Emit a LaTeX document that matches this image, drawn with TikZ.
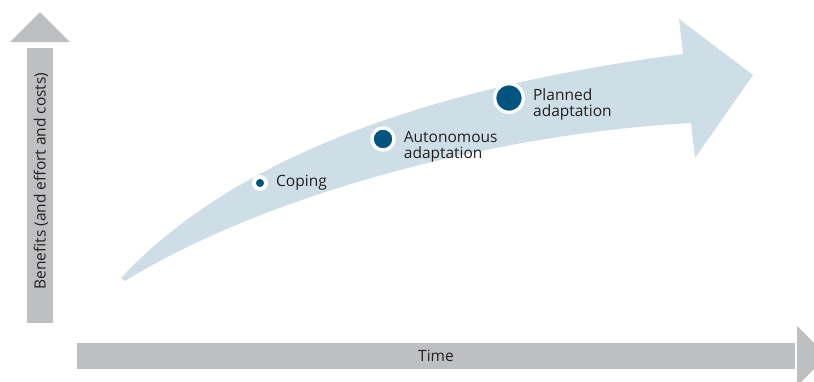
\documentclass[tikz,border=0pt]{standalone}
\usepackage{fontspec}
\setmainfont{Open Sans}
\usepackage{tikz}
\usetikzlibrary{positioning}

\definecolor{axisgray}{RGB}{190,191,193}
\definecolor{bandblue}{RGB}{205,222,230}
\definecolor{dotblue}{RGB}{0,84,128}
\definecolor{textgray}{RGB}{35,31,32}

\tikzset{
  lbl/.style={font=\fontsize{15.5}{16}\selectfont, text=textgray, inner sep=0pt, align=left},
  stagedot/.style={circle, fill=dotblue, draw=white, inner sep=0pt}
}

\begin{document}
\begin{tikzpicture}[x=1pt, y=-1pt]
  \useasboundingbox (0,0) rectangle (814,381);
  \clip (0,0) rectangle (814,381);

  % Axes
  \fill[axisgray] (27,48) rectangle (53,323);
  \fill[axisgray] (10,42) -- (40,12) -- (70,42) -- cycle;
  \fill[axisgray] (77,343) rectangle (795,369);
  \fill[axisgray] (797,326) -- (827,356) -- (797,386) -- cycle;

  \node[lbl, rotate=90] (benefits) at (41,181) {Benefits (and effort and costs)};
  \node[lbl] (time) at (436,356) {Time};

  % Curved band
  \fill[bandblue] (121,278) .. controls (245,145) and (461,83) .. (683,54)
    -- (679,19) -- (753,75) -- (695,158) -- (691,123)
    .. controls (490,134) and (263,196) .. (125,281) -- cycle;

  % Stages
  \node[stagedot, minimum size=12pt, line width=4pt] (coping) at (260,183) {};
  \node[stagedot, minimum size=22pt, line width=3.4pt] (auton) at (383,139) {};
  \node[stagedot, minimum size=28.6pt, line width=3.3pt] (planned) at (509,98) {};

  % Labels
  \node[lbl, right=8pt of coping] (copingtxt) {Coping};
  \node[lbl, right=8pt of auton, yshift=-8pt] (autontxt) {Autonomous\\adaptation};
  \node[lbl, right=8pt of planned, yshift=-6pt] (plannedtxt) {Planned\\adaptation};

\end{tikzpicture}
\end{document}
